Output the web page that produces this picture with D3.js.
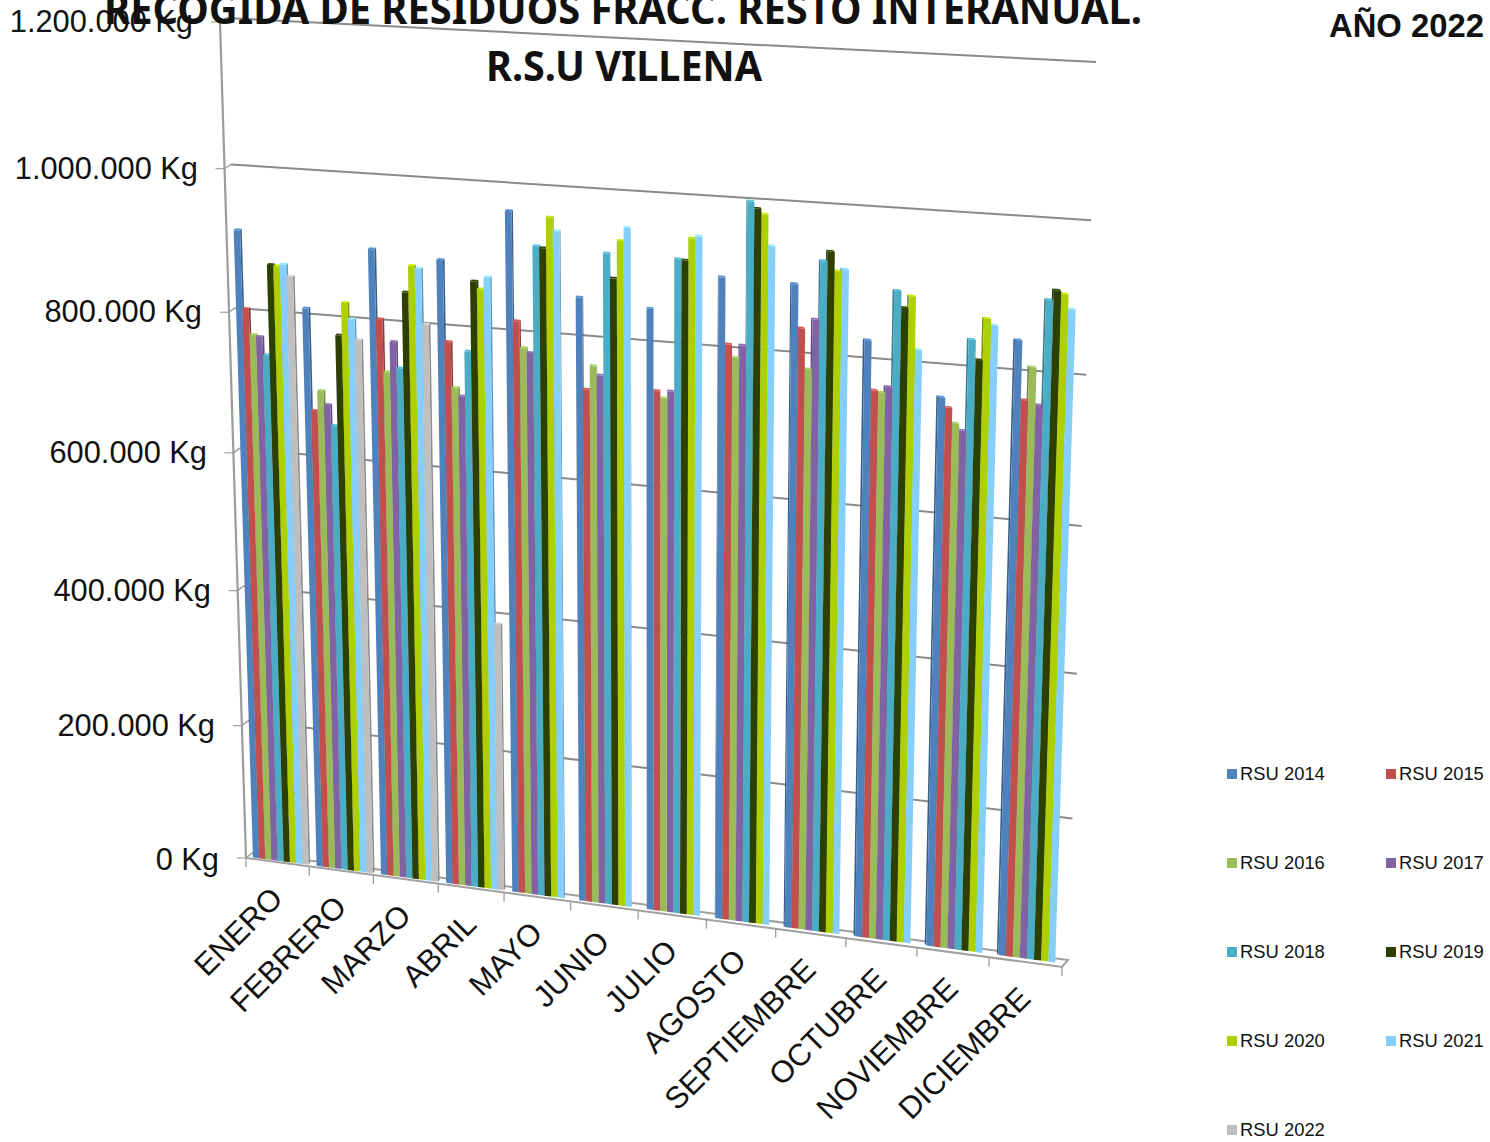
<!DOCTYPE html><html><head><meta charset="utf-8"><script src="https://cdn.jsdelivr.net/npm/d3@7"></script>
<style>html,body{margin:0;background:#fff}svg{display:block}</style></head><body><svg id="c" width="1490" height="1142"></svg><script>
const months=["ENERO","FEBRERO","MARZO","ABRIL","MAYO","JUNIO","JULIO","AGOSTO","SEPTIEMBRE","OCTUBRE","NOVIEMBRE","DICIEMBRE"];
const seriesNames=["RSU 2014","RSU 2015","RSU 2016","RSU 2017","RSU 2018","RSU 2019","RSU 2020","RSU 2021","RSU 2022"];
const seriesColors=["#4F81BD","#C0504D","#9BBB59","#8064A2","#4BACC6","#2F3F06","#AFD000","#85CFFF","#BFBFBF"];
const rsu2014=[913,811,900,892,965,855,847,896,894,827,759,842];
const rsu2015=[804,668,804,780,816,730,736,807,836,761,746,764];
const rsu2016=[768,697,731,717,780,763,727,790,782,759,726,808];
const rsu2017=[766,678,774,706,774,751,737,807,849,767,717,759];
const rsu2018=[741,649,738,769,920,917,916,999,927,895,838,897];
const rsu2019=[868,777,844,866,918,884,915,990,940,873,812,910];
const rsu2020=[867,823,881,856,960,935,945,983,915,889,867,906];
const rsu2021=[870,801,878,873,942,953,948,942,918,819,859,887];
const rsu2022=[854,773,802,389];
const seriesValues=[rsu2014,rsu2015,rsu2016,rsu2017,rsu2018,rsu2019,rsu2020,rsu2021,rsu2022];
const valueTicks=[0,200,400,600,800,1000,1200];
const tickText=["0 Kg","200.000 Kg","400.000 Kg","600.000 Kg","800.000 Kg","1.000.000 Kg","1.200.000 Kg"];
const labelAt=[[219,870],[215,736],[211,601],[207,463],[202,322],[198,179],[193,32]];

function homography(q){const [p0,p1,p2,p3]=q;const dx1=p1[0]-p2[0],dx2=p3[0]-p2[0],sx=p0[0]-p1[0]+p2[0]-p3[0],dy1=p1[1]-p2[1],dy2=p3[1]-p2[1],sy=p0[1]-p1[1]+p2[1]-p3[1];const d=dx1*dy2-dx2*dy1;const g=(sx*dy2-dx2*sy)/d,h=(dx1*sy-sx*dy1)/d;const a=p1[0]-p0[0]+g*p1[0],b=p3[0]-p0[0]+h*p3[0],c=p0[0],e=p1[1]-p0[1]+g*p1[1],f=p3[1]-p0[1]+h*p3[1],k=p0[1];return (s,t)=>{const w=g*s+h*t+1;return[(a*s+b*t+c)/w,(e*s+f*t+k)/w]}}
const Hmid=homography([[249,857],[1067,964],[1096,64],[223,20]]);
const Hback=homography([[252,853],[1068,960],[1096,62],[226,18]]);
const Hfront=homography([[246,858],[1062,967],[1090,66],[220,22]]);

const yS=d3.scaleLinear().domain([0,1200]).range([0,1]);
const xS=d3.scaleBand().domain(months).range([0,1]).paddingInner(.125).paddingOuter(.0625);
const sS=d3.scaleBand().domain(seriesNames).range([0,xS.bandwidth()]);
const catEdge=d3.scaleLinear().domain([0,12]).range([0,1]);
const svg=d3.select("#c");
const defs=svg.append("defs");
defs.append("filter").attr("id","soft").attr("x","-5%").attr("y","-5%").attr("width","110%").attr("height","110%").append("feGaussianBlur").attr("stdDeviation",.45);
const line=d3.line();
const grid=svg.append("g").attr("fill","none").attr("stroke","#8A8A8A");
valueTicks.forEach(v=>{
  const t=yS(v);
  if(v>0) grid.append("path").attr("d",line([Hback(0,t),Hback(1,t)])).attr("stroke-width",2);
  grid.append("path").attr("d",line([Hfront(0,t),Hback(0,t)])).attr("stroke-width",1.4).attr("stroke","#9A9A9A");
  const f=Hfront(0,t);
  grid.append("path").attr("d",line([[f[0]-9,f[1]],f])).attr("stroke-width",1.2).attr("stroke","#A0A0A0");
});
grid.append("path").attr("d",line([Hfront(0,0),Hfront(0,1)])).attr("stroke-width",2.2).attr("stroke","#9C9C9C");
grid.append("path").attr("d",line([Hback(0,0),Hback(1,0),Hfront(1,0),Hfront(0,0)])).attr("stroke-width",2).attr("stroke","#A0A0A0");
d3.range(13).forEach(i=>{const p=Hfront(catEdge(i),0);grid.append("path").attr("d",line([p,[p[0],p[1]+9]])).attr("stroke-width",1.3).attr("stroke","#9C9C9C")});

const bars=svg.append("g").attr("filter","url(#soft)");
months.forEach((m,mi)=>{
  const order=mi<6?d3.range(9):d3.range(8,-1,-1);
  order.forEach(si=>{
    const val=seriesValues[si][mi];
    if(val==null)return;
    const u0=xS(m)+sS(seriesNames[si]),u1=u0+sS.bandwidth(),t=yS(val);
    const fl=Hmid(u0,0),fr=Hmid(u1,0),tl=Hmid(u0,t),tr=Hmid(u1,t);
    const c=d3.color(seriesColors[si]);
    const g=bars.append("g");
    const shift=Math.max(-1.6,Math.min(1.6,(660-(tl[0]+tr[0])/2)/120));
    const b=p=>[p[0]+shift,p[1]-1.8];
    const sideA=shift>0?[fr,tr]:[fl,tl];
    g.append("path").attr("d",line([sideA[0],sideA[1],b(sideA[1]),b(sideA[0])])+"Z").attr("fill",c.darker(.9));
    g.append("path").attr("d",line([tl,tr,b(tr),b(tl)])+"Z").attr("fill",c.brighter(.35));
    g.append("path").attr("d",line([fl,fr,tr,tl])+"Z").attr("fill",c);
  });
});

const ax=svg.append("g").attr("font-family","'Liberation Sans',Arial,sans-serif").attr("font-size",30.8).attr("fill","#111");
valueTicks.forEach((v,i)=>ax.append("text").attr("x",labelAt[i][0]).attr("y",labelAt[i][1]).attr("text-anchor","end").text(tickText[i]));
months.forEach((m,i)=>{
  const p=Hfront(catEdge(i+.5),0);
  ax.append("text").attr("text-anchor","end").attr("transform",`translate(${p[0]+7},${p[1]+38}) rotate(-45)`).text(m);
});

const lg=svg.append("g").attr("font-family","'Liberation Sans',Arial,sans-serif").attr("font-size",18.4).attr("fill","#111");
const legCols=[1227,1386],legRows=[774,863,952,1041,1130];
seriesNames.forEach((n,i)=>{
  const x=legCols[i%2],y=legRows[Math.floor(i/2)];
  lg.append("rect").attr("x",x).attr("y",y-5).attr("width",10).attr("height",10).attr("fill",seriesColors[i]);
  lg.append("text").attr("x",x+13).attr("y",y+6).text(n);
});
const tt=svg.append("g").attr("font-family","'Noto Sans',sans-serif").attr("font-weight",700).attr("font-size",41).attr("fill","#111");
tt.append("text").attr("x",104).attr("y",24).attr("textLength",1038).attr("lengthAdjust","spacingAndGlyphs").text("RECOGIDA DE RESIDUOS FRACC. RESTO INTERANUAL.");
tt.append("text").attr("x",486).attr("y",81).attr("textLength",276).attr("lengthAdjust","spacingAndGlyphs").text("R.S.U VILLENA");
svg.append("text").attr("x",1329).attr("y",37).attr("font-family","'Liberation Sans',Arial,sans-serif").attr("font-weight",700).attr("font-size",32.8).attr("fill","#111").text("AÑO 2022");
</script></body></html>
